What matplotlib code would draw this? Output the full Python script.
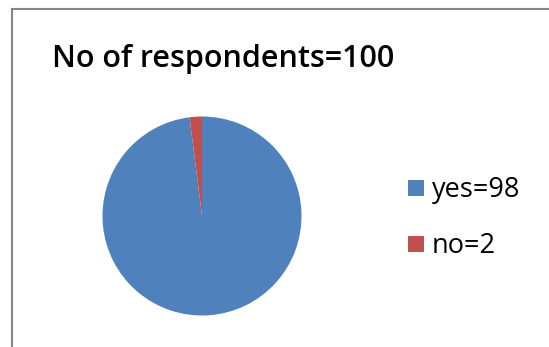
import matplotlib
matplotlib.use("Agg")
import matplotlib.pyplot as plt
from matplotlib.lines import Line2D
from matplotlib.patches import Rectangle

# Survey answers
labels = ["yes=98", "no=2"]
counts = [98, 2]
colors = ["#4F81BD", "#C0504D"]
title = "No of respondents=100"

W, H = 549, 347
fig = plt.figure(figsize=(W / 100, H / 100), dpi=100)
fig.patch.set_facecolor("white")


def fx(px):
    return px / W


def fy(py):
    return (H - py) / H


# Chart-area frame (top and left edges visible)
border = "#878787"
fig.add_artist(Line2D([fx(12), fx(12)], [0, fy(9)], color=border, lw=1.5,
                      transform=fig.transFigure))
fig.add_artist(Line2D([fx(12), 1], [fy(9), fy(9)], color=border, lw=1.5,
                      transform=fig.transFigure))

# Title
fig.text(fx(52), fy(66.5), title, fontsize=22, fontweight="semibold",
         family="Open Sans", color="black", va="baseline", ha="left")

# Pie, starting at 12 o'clock and going clockwise
cx, cy, r = 202, 216, 100
ax = fig.add_axes([fx(cx - r), fy(cy + r), 2 * r / W, 2 * r / H])
wedges, _ = ax.pie(counts, colors=colors, startangle=90, counterclock=False,
                   radius=0.995, wedgeprops=dict(linewidth=0))
ax.set_xlim(-1, 1)
ax.set_ylim(-1, 1)
ax.set_aspect("equal")
ax.axis("off")

# Legend: colour square plus label for each wedge
sq = 16
for i, (w, lab) in enumerate(zip(wedges, labels)):
    yc = 188 + 56 * i
    fig.add_artist(Rectangle((fx(408), fy(yc + sq / 2)), sq / W, sq / H,
                             facecolor=w.get_facecolor(), edgecolor="none",
                             transform=fig.transFigure))
    fig.text(fx(432), fy(yc + 9), lab, fontsize=19.5, family="Open Sans",
             color="black", va="baseline", ha="left")

fig.savefig("out.png", dpi=100)
